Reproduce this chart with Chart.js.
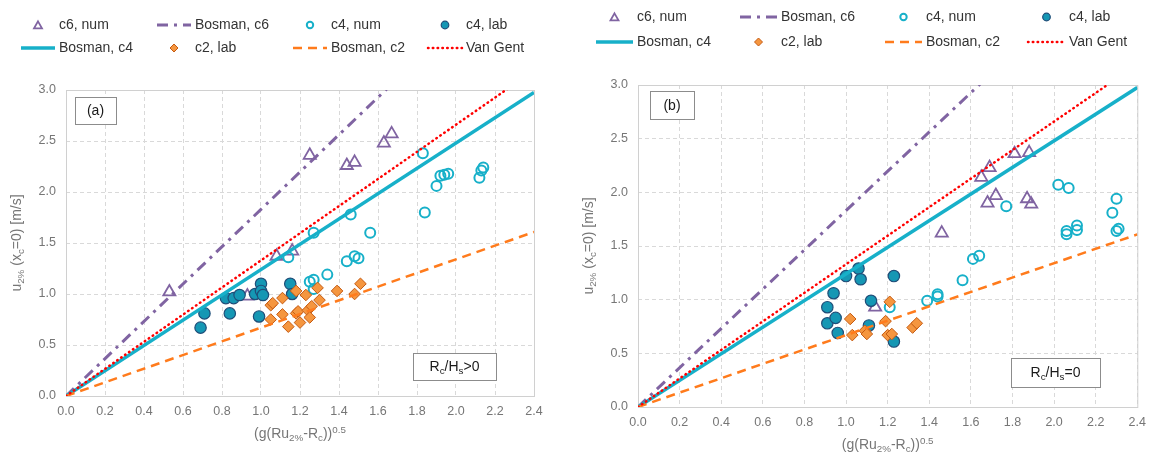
<!DOCTYPE html>
<html>
<head>
<meta charset="utf-8">
<script src="https://cdn.jsdelivr.net/npm/chart.js@4/dist/chart.umd.min.js"></script>
<style>
  body { margin: 0; background: #fff; }
  canvas { position: absolute; top: 0; }
  #chartA { left: 0; }
  #chartB { left: 577px; }
</style>
</head>
<body>
<canvas id="chartA" width="577" height="459"></canvas>
<canvas id="chartB" width="577" height="459"></canvas>
<script>
// measured points, [x, y] = [(g(Ru2%-Rc))^0.5, u2%]
// panel (a): Rc/Hs > 0
const c6NumA = [[0.53,1.02],[0.93,0.98],[1.08,1.37],[1.16,1.42],[1.25,2.36],[1.44,2.26],[1.48,2.29],[1.63,2.48],[1.67,2.57]]
const c4NumA = [[1.14,1.36],[1.25,1.12],[1.27,1.14],[1.27,1.05],[1.27,1.60],[1.34,1.19],[1.44,1.32],[1.46,1.78],[1.48,1.37],[1.50,1.35],
  [1.56,1.60],[1.83,2.38],[1.84,1.80],[1.90,2.06],[1.92,2.16],[1.94,2.17],[1.96,2.18],[2.12,2.14],[2.13,2.21],[2.14,2.24]]
const c4LabA = [[0.69,0.67],[0.71,0.81],[0.82,0.96],[0.84,0.81],[0.86,0.96],[0.89,0.99],[0.97,1.00],[0.99,0.78],[1.00,1.10],[1.00,1.03],
  [1.01,0.99],[1.15,1.10],[1.16,1.00]]
const c2LabA = [[1.05,0.89],[1.06,0.91],[1.05,0.75],[1.11,0.96],[1.11,0.80],[1.14,0.68],[1.18,1.03],[1.18,0.81],[1.19,0.83],[1.20,0.72],
  [1.23,0.99],[1.24,0.84],[1.25,0.77],[1.26,0.88],[1.29,1.06],[1.30,0.94],[1.39,1.03],[1.48,1.00],[1.51,1.10]]

// panel (b): Rc/Hs = 0
const c6NumB = [[1.14,0.93],[1.46,1.62],[1.65,2.14],[1.68,1.90],[1.69,2.23],[1.72,1.97],[1.81,2.36],[1.87,1.94],[1.88,2.37],[1.89,1.89]]
const c4NumB = [[1.21,0.93],[1.39,0.99],[1.44,1.03],[1.44,1.05],[1.56,1.18],[1.61,1.38],[1.64,1.41],[1.77,1.87],[2.02,2.07],[2.07,2.04],
  [2.06,1.64],[2.06,1.61],[2.11,1.69],[2.11,1.65],[2.28,1.81],[2.30,1.94],[2.30,1.64],[2.31,1.66]]
const c4LabB = [[0.91,0.93],[0.91,0.78],[0.94,1.06],[0.95,0.83],[0.96,0.69],[1.00,1.22],[1.06,1.29],[1.07,1.19],[1.11,0.76],[1.12,0.99],
  [1.23,1.22],[1.23,0.61]]
const c2LabB = [[1.02,0.82],[1.03,0.67],[1.09,0.71],[1.10,0.68],[1.19,0.80],[1.20,0.67],[1.22,0.68],[1.21,0.98],[1.32,0.74],[1.34,0.78]]

// u2% = c * (g(Ru2%-Rc))^0.5
const bosmanC6 = 1.83
const bosmanC4 = 1.24
const bosmanC2 = 0.67
const vanGent = 1.33
const lineX = [0, 2.4]

const xMax = 2.4, xStep = 0.2
const yMax = 3.0, yStep = 0.5

const FONT = '"Liberation Sans", Arial, sans-serif'
const GREY = '#767676'
const GRID = '#d9d9d9'
Chart.defaults.font.family = FONT

// legend order (row by row, 4 columns)
const series = [
  { key: 'c6Num', label: 'c6, num', pointStyle: 'triangle', pointRadius: 7, legendRadius: 4.6, pointBorderColor: '#8064a2',
    pointBackgroundColor: 'rgba(0,0,0,0)', pointBorderWidth: 1.8 },
  { key: 'bC6', label: 'Bosman, c6', line: true, borderColor: '#8064a2', borderWidth: 3, borderDash: [11, 6, 3, 6] },
  { key: 'c4Num', label: 'c4, num', pointStyle: 'circle', pointRadius: 5, legendRadius: 3.2, pointBorderColor: '#17b0c9',
    pointBackgroundColor: 'rgba(0,0,0,0)', pointBorderWidth: 2 },
  { key: 'c4Lab', label: 'c4, lab', pointStyle: 'circle', pointRadius: 5.7, legendRadius: 3.8, pointBorderColor: '#1f4e79',
    pointBackgroundColor: '#1597b4', pointBorderWidth: 1.2 },
  { key: 'bC4', label: 'Bosman, c4', line: true, borderColor: '#17b0c9', borderWidth: 3.5, borderDash: [] },
  { key: 'c2Lab', label: 'c2, lab', pointStyle: 'rectRot', pointRadius: 5.8, legendRadius: 4, pointBorderColor: '#c55a11',
    pointBackgroundColor: '#f5963f', pointBorderWidth: 1 },
  { key: 'bC2', label: 'Bosman, c2', line: true, borderColor: '#ff7b1c', borderWidth: 2.5, borderDash: [9, 6] },
  { key: 'vg', label: 'Van Gent', line: true, borderColor: '#ff0000', borderWidth: 2.5, borderDash: [0.5, 4.3], borderCapStyle: 'round' },
]

const lineOf = c => lineX.map(x => ({ x: x, y: c * x }))
const pts = arr => arr.map(p => ({ x: p[0], y: p[1] }))

const panels = [
  {
    id: 'chartA', tag: '(a)', cond: '>0',
    data: { c6Num: c6NumA, c4Num: c4NumA, c4Lab: c4LabA, c2Lab: c2LabA },
    area: { left: 66, top: 90, right: 43, bottom: 63 },
    legend: { x: [21, 157, 293, 428], y: [25, 48], w: 34, gap: 4 },
    tagBox: [75, 97, 41, 27],
    condBox: [413, 353, 83, 27],
  },
  {
    id: 'chartB', tag: '(b)', cond: '=0',
    data: { c6Num: c6NumB, c4Num: c4NumB, c4Lab: c4LabB, c2Lab: c2LabB },
    area: { left: 61, top: 85, right: 16, bottom: 52 },
    legend: { x: [19, 163, 308, 451], y: [17, 42], w: 37, gap: 4 },
    tagBox: [73, 91, 44, 28],
    condBox: [434, 358, 89, 29],
  },
]

// text with sub/superscript parts: [text, 'sub' | 'sup' | undefined]
function richText(ctx, parts, x, y, size, align) {
  const fontOf = p => (p[1] ? size * 0.7 : size) + 'px ' + FONT
  let w = 0
  for (const p of parts) { ctx.font = fontOf(p); w += ctx.measureText(p[0]).width }
  let cx = align === 'center' ? x - w / 2 : x
  ctx.textAlign = 'left'
  ctx.textBaseline = 'middle'
  for (const p of parts) {
    ctx.font = fontOf(p)
    const dy = p[1] === 'sub' ? size * 0.28 : p[1] === 'sup' ? -size * 0.3 : 0
    ctx.fillText(p[0], cx, y + dy)
    cx += ctx.measureText(p[0]).width
  }
}

function textBox(ctx, box, parts) {
  const [x, y, w, h] = box
  ctx.fillStyle = '#fff'
  ctx.fillRect(x, y, w, h)
  ctx.strokeStyle = '#8c8c8c'
  ctx.lineWidth = 1
  ctx.setLineDash([])
  ctx.strokeRect(x + 0.5, y + 0.5, w, h)
  ctx.fillStyle = '#1a1a1a'
  richText(ctx, parts, x + w / 2, y + h / 2 + 1, 14, 'center')
}

const decor = {
  id: 'decor',
  beforeDatasetsDraw(chart, args, p) {
    const { ctx, chartArea: a } = chart
    ctx.save()
    ctx.strokeStyle = '#d0d0d0'
    ctx.lineWidth = 1
    ctx.strokeRect(a.left + 0.5, a.top + 0.5, a.right - a.left, a.bottom - a.top)
    ctx.restore()
  },
  afterDraw(chart, args, p) {
    const { ctx, chartArea: a } = chart
    ctx.save()

    // legend
    chart.data.datasets.forEach((ds, i) => {
      const x0 = p.legend.x[i % 4], y = p.legend.y[Math.floor(i / 4)]
      const w = p.legend.w
      if (ds.showLine) {
        ctx.strokeStyle = ds.borderColor
        ctx.lineWidth = ds.borderWidth
        ctx.lineCap = ds.borderCapStyle || 'butt'
        ctx.setLineDash(ds.borderDash)
        ctx.beginPath()
        ctx.moveTo(x0, y)
        ctx.lineTo(x0 + w, y)
        ctx.stroke()
        ctx.setLineDash([])
      } else {
        ctx.fillStyle = ds.pointBackgroundColor
        ctx.strokeStyle = ds.pointBorderColor
        ctx.lineWidth = ds.pointBorderWidth
        Chart.helpers.drawPoint(ctx, { pointStyle: ds.pointStyle, radius: ds.legendRadius, rotation: 0,
          borderWidth: ds.pointBorderWidth }, x0 + w / 2, y + (ds.pointStyle === 'triangle' ? 1 : 0))
      }
      ctx.fillStyle = '#333'
      ctx.font = '14px ' + FONT
      ctx.textAlign = 'left'
      ctx.textBaseline = 'middle'
      ctx.fillText(ds.label, x0 + w + p.legend.gap, y)
    })

    // axis titles
    ctx.fillStyle = GREY
    richText(ctx, [['(g(Ru'], ['2%', 'sub'], ['-R'], ['c', 'sub'], ['))'], ['0.5', 'sup']],
      (a.left + a.right) / 2, a.bottom + 38, 14, 'center')
    ctx.save()
    ctx.translate(a.left - 49, (a.top + a.bottom) / 2)
    ctx.rotate(-Math.PI / 2)
    richText(ctx, [['u'], ['2%', 'sub'], [' (x'], ['c', 'sub'], ['=0) [m/s]']], 0, 0, 14, 'center')
    ctx.restore()

    // panel tag and condition boxes
    textBox(ctx, p.tagBox, [[p.tag]])
    textBox(ctx, p.condBox, [['R'], ['c', 'sub'], ['/H'], ['s', 'sub'], [p.cond]])

    ctx.restore()
  }
}

function makeChart(p) {
  const coef = { bC6: bosmanC6, bC4: bosmanC4, bC2: bosmanC2, vg: vanGent }
  const datasets = series.map((s, i) => {
    const ds = Object.assign({ label: s.label, order: series.length - i }, s)
    if (s.line) {
      ds.data = lineOf(coef[s.key])
      ds.showLine = true
      ds.pointRadius = 0
      ds.fill = false
    } else {
      ds.data = pts(p.data[s.key])
      ds.showLine = false
    }
    return ds
  })

  const tickFont = { size: 12.5 }
  new Chart(document.getElementById(p.id), {
    type: 'scatter',
    data: { datasets },
    plugins: [decor],
    options: {
      responsive: false,
      animation: false,
      layout: { padding: { left: 0, top: p.area.top, right: p.area.right, bottom: 0 } },
      plugins: { legend: { display: false }, tooltip: { enabled: false }, decor: p },
      scales: {
        x: {
          type: 'linear', min: 0, max: xMax,
          ticks: { stepSize: xStep, padding: 8, color: GREY, font: tickFont, callback: v => v.toFixed(1) },
          grid: { color: GRID, drawTicks: false, borderDash: [4, 3] },
          border: { display: false, dash: [4, 3] },
          afterFit: s => { s.height = p.area.bottom }
        },
        y: {
          type: 'linear', min: 0, max: yMax,
          ticks: { stepSize: yStep, padding: 10, color: GREY, font: tickFont, callback: v => v.toFixed(1) },
          grid: { color: GRID, drawTicks: false, borderDash: [4, 3] },
          border: { display: false, dash: [4, 3] },
          afterFit: s => { s.width = p.area.left }
        }
      }
    }
  })
}

panels.forEach(makeChart)
</script>
</body>
</html>
